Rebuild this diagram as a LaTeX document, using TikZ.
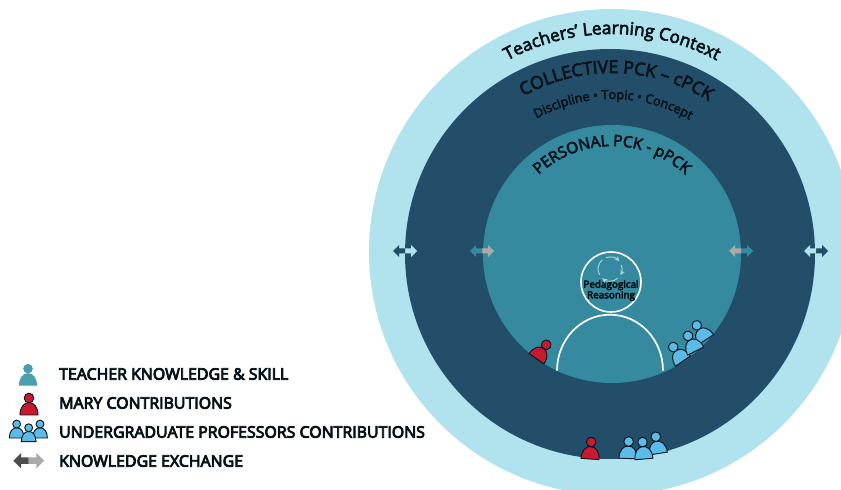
\documentclass[tikz,border=0pt]{standalone}
\usepackage{fontspec}
\setmainfont{Open Sans}
\newfontfamily\labfont[RawFeature={embolden=5}]{Open Sans}
\newfontfamily\curvefont[RawFeature={embolden=3.5}]{Open Sans}
\usetikzlibrary{decorations.text,arrows.meta}
\definecolor{ringA}{HTML}{B0E3ED}
\definecolor{ringB}{HTML}{224E69}
\definecolor{ringC}{HTML}{358A9F}
\definecolor{inkD}{HTML}{06121A}
\definecolor{redP}{HTML}{C8192E}
\definecolor{blueP}{HTML}{5BBCEA}
\definecolor{tealP}{HTML}{4A9EB0}
\definecolor{grayA}{HTML}{AAAAAA}
\definecolor{grayD}{HTML}{4D4D4D}
\definecolor{cyc}{HTML}{A6D2D9}
\tikzset{
  ring/.style={circle,inner sep=0pt,minimum size=#1},
  legend/.style={anchor=west,inner sep=0pt,font=\labfont\fontsize{15.9}{16}\selectfont,text=inkD},
  person/.pic={
    \path[pic actions] (-9,0) .. controls (-9,8) and (-5,12.5) .. (0,12.5) .. controls (5,12.5) and (9,8) .. (9,0) -- cycle;
    \path[pic actions] (0,17) circle[radius=4.8];
  },
  halfarrow/.pic={
    \path[pic actions] (0,-2.5) -- (6,-2.5) -- (6,-6) -- (12,0) -- (6,6) -- (6,2.5) -- (0,2.5) -- cycle;
  },
  redman/.style={fill=redP,draw=inkD,line width=0.9pt},
  blueman/.style={fill=blueP,draw=inkD,line width=0.9pt},
  cycarrow/.style={cyc,line width=1pt,-{Stealth[length=5pt,width=5pt]}},
}
\newcommand{\curvedtext}[5]{% radius, start, end, font, text
  \path[decorate,decoration={text along path,text align={center},text={|#4|#5}}]
    ([shift={(#2:#1)}]ctr) arc[start angle=#2,end angle=#3,radius=#1];}
\newcommand{\dbl}[4]{% x, y, left colour, right colour
  \pic[fill=#4] at (#1,#2) {halfarrow};
  \pic[fill=#3,xscale=-1] at (#1,#2) {halfarrow};}
\begin{document}
\begin{tikzpicture}[x=1pt,y=1pt]
\useasboundingbox (0,0) rectangle (841,490);
\clip (0,0) rectangle (841,490);
\fill[white] (0,0) rectangle (841,490);
\coordinate (ctr) at (612,236);
\node[ring=486pt,fill=ringA] (outer) at (612,238) {};
\node[ring=410pt,fill=ringB] (middle) at (610,236) {};
\node[ring=258pt,fill=ringC] (inner) at (612,236) {};
% curved titles
\curvedtext{220}{123}{57}{\curvefont\fontsize{17.3}{20}\selectfont\color{inkD}}{Teachers’ Learning Context}
\curvedtext{181}{121.5}{55.5}{\curvefont\fontsize{17.6}{20}\selectfont\color{inkD}}{COLLECTIVE PCK – cPCK}
\curvedtext{155}{122.5}{56.5}{\curvefont\fontsize{12.7}{14}\selectfont\color{inkD}}{Discipline • Topic • Concept}
\curvedtext{108}{140}{40}{\curvefont\fontsize{15.5}{18}\selectfont\color{inkD}}{PERSONAL PCK - pPCK}
% pedagogical reasoning
\node[ring=60pt,draw=white,line width=1.6pt] (ped) at (611,208) {};
\node[inner sep=0pt,align=center,font=\labfont\fontsize{9.9}{9.4}\selectfont,text=inkD] (pedtext) at (611,199.5) {Pedagogical\\Reasoning};
\coordinate (cyc) at (610,221);
\draw[cycarrow] ([shift={(110:12)}]cyc) arc[start angle=110,end angle=40,radius=12] ;
\draw[cycarrow] ([shift={(20:12)}]cyc) arc[start angle=20,end angle=-30,radius=12] ;
\draw[cycarrow] ([shift={(-50:12)}]cyc) arc[start angle=-50,end angle=-130,radius=12] ;
\draw[cycarrow,-] ([shift={(-150:12)}]cyc) arc[start angle=210,end angle=130,radius=12];
\draw[white,line width=1.7pt] (557,119.3) arc[start angle=180,end angle=0,x radius=53,y radius=56];
% exchange arrows
\dbl{405}{239}{ringB}{ringA}
\dbl{482}{239}{ringC}{grayA}
\dbl{741}{239}{grayA}{ringC}
\dbl{816}{239}{ringA}{ringB}
% inner people
\pic[redman,rotate=-35] at (536.5,131.3) {person};
\pic[blueman,rotate=33] at (706,150.4) {person};
\pic[blueman,rotate=35] at (683,129) {person};
\pic[blueman,rotate=27] at (695.7,139) {person};
% bottom people
\pic[redman,rotate=-4] at (590,31) {person};
\pic[blueman,rotate=-2] at (628,31.5) {person};
\pic[blueman,rotate=9] at (658.5,36.5) {person};
\pic[blueman,rotate=5] at (644,31) {person};
% legend
\pic[fill=tealP] at (28,104.3) {person};
\pic[redman] at (29,75) {person};
\pic[blueman,scale=.82] at (16.7,52) {person};
\pic[blueman,scale=.82] at (40,52) {person};
\pic[blueman,scale=.82] at (28.7,48.3) {person};
\pic[fill=grayA,scale=1.28] at (28.7,29.3) {halfarrow};
\pic[fill=grayD,xscale=-1.28,yscale=1.28] at (28.7,29.3) {halfarrow};
\node[legend] (l1) at (59,116) {TEACHER KNOWLEDGE \& SKILL};
\node[legend] (l2) at (59,87) {MARY CONTRIBUTIONS};
\node[legend] (l3) at (59,58) {UNDERGRADUATE PROFESSORS CONTRIBUTIONS};
\node[legend] (l4) at (59,29) {KNOWLEDGE EXCHANGE};
\end{tikzpicture}
\end{document}
